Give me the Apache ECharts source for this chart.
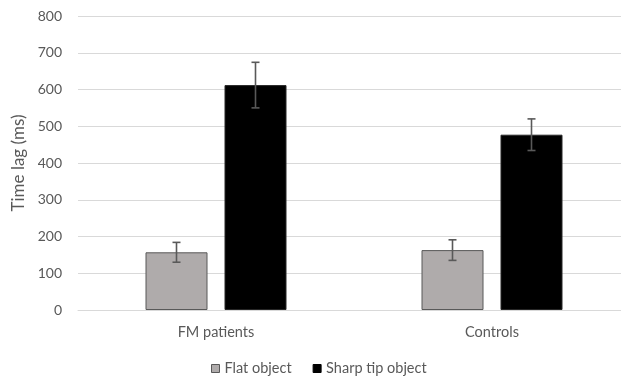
<!DOCTYPE html>
<html><head><meta charset="utf-8">
<script src="https://cdn.jsdelivr.net/npm/echarts@6/dist/echarts.min.js"></script>
<style>html,body{margin:0;padding:0;background:#fff}#c{width:621px;height:378px}</style>
</head><body><div id="c"></div>
<script>
const categories = ['FM patients', 'Controls'];
const flatValues = [157, 163];
const flatErrors = [27, 28];
const sharpValues = [612, 477];
const sharpErrors = [62, 43];
const yTicks = [0, 100, 200, 300, 400, 500, 600, 700, 800];

const FONT = 'Lato, "Open Sans", sans-serif';
const BAR_W = 62, GAP = 17;
const half = (BAR_W + GAP) / 2;

function errSeries(name, vals, errs, offset) {
  return {
    type: 'custom', name: name + ' err', silent: true, z: 5,
    data: vals.map((v, i) => [i, v - errs[i], v + errs[i]]),
    renderItem: function (params, api) {
      const lo = api.coord([api.value(0), api.value(1)]);
      const hi = api.coord([api.value(0), api.value(2)]);
      const x = lo[0] + offset;
      const cw = 4;
      const st = { stroke: '#595959', lineWidth: 1.6 };
      return { type: 'group', children: [
        { type: 'line', shape: { x1: x, y1: lo[1], x2: x, y2: hi[1] }, style: st },
        { type: 'line', shape: { x1: x - cw, y1: lo[1], x2: x + cw, y2: lo[1] }, style: st },
        { type: 'line', shape: { x1: x - cw, y1: hi[1], x2: x + cw, y2: hi[1] }, style: st }
      ]};
    }
  };
}

const chart = echarts.init(document.getElementById('c'), null, { renderer: 'canvas' });
chart.setOption({
  animation: false,
  textStyle: { fontFamily: FONT },
  grid: { left: 78, top: 16, width: 552, height: 294, containLabel: false, outerBoundsMode: 'none' },
  legend: {
    top: 356, left: 206, itemWidth: 8, itemHeight: 8, itemGap: 21,
    textStyle: { color: '#595959', fontSize: 14.5, fontFamily: FONT },
    data: [
      { name: 'Flat object', icon: 'rect', itemStyle: { color: '#afabab', borderColor: '#595959', borderWidth: 1 } },
      { name: 'Sharp tip object', icon: 'rect', itemStyle: { color: '#000', borderColor: '#000', borderWidth: 1 } }
    ]
  },
  xAxis: {
    type: 'category', data: categories,
    axisLine: { lineStyle: { color: '#d9d9d9', width: 1 } },
    axisTick: { show: false },
    axisLabel: { color: '#595959', fontSize: 14.5, margin: 15, fontFamily: FONT }
  },
  yAxis: {
    type: 'value', min: 0, max: 800, interval: 100,
    name: 'Time lag (ms)', nameLocation: 'middle', nameGap: 42, nameRotate: 90,
    nameTextStyle: { color: '#595959', fontSize: 17, fontFamily: FONT },
    axisLine: { show: false }, axisTick: { show: false },
    axisLabel: { color: '#595959', fontSize: 14, margin: 16, fontFamily: FONT,
      formatter: v => yTicks.includes(v) ? String(v) : '' },
    splitLine: { lineStyle: { color: '#d9d9d9', width: 1 } }
  },
  series: [
    { type: 'bar', name: 'Flat object', data: flatValues, barWidth: BAR_W, barGap: (GAP / BAR_W * 100) + '%',
      itemStyle: { color: '#afabab', borderColor: '#595959', borderWidth: 1 } },
    { type: 'bar', name: 'Sharp tip object', data: sharpValues, barWidth: BAR_W,
      itemStyle: { color: '#000000', borderColor: '#262626', borderWidth: 1 } },
    errSeries('Flat object', flatValues, flatErrors, -half),
    errSeries('Sharp tip object', sharpValues, sharpErrors, half)
  ]
});
</script></body></html>
